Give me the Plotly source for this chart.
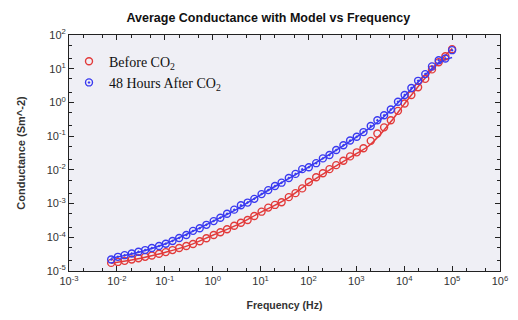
import plotly.graph_objects as go

# Frequencies of measured points (Hz)
freq = [0.0076, 0.0105, 0.0145, 0.0204, 0.0282, 0.0389, 0.0537, 0.0759, 0.105, 0.145,
        0.200, 0.282, 0.389, 0.537, 0.741, 1.05, 1.45, 2.0, 2.82, 3.89,
        5.37, 7.41, 10.5, 14.5, 20, 27.5, 38.9, 53.7, 74.1, 102,
        145, 200, 275, 380, 537, 741, 1020, 1410, 2000, 2750,
        3800, 5250, 7410, 10200, 14100, 19500, 27500, 38000, 52500, 72400,
        100000]

# Before CO2 measured conductance
before = [1.74e-5, 1.86e-5, 2.0e-5, 2.19e-5, 2.40e-5, 2.63e-5, 2.88e-5, 3.24e-5, 3.63e-5, 4.17e-5,
          4.79e-5, 5.50e-5, 6.31e-5, 7.59e-5, 9.33e-5, 1.17e-4, 1.41e-4, 1.74e-4, 2.19e-4, 2.69e-4,
          3.24e-4, 4.27e-4, 5.75e-4, 7.59e-4, 9.12e-4, 1.10e-3, 1.55e-3, 2.04e-3, 2.82e-3, 4.37e-3,
          6.03e-3, 7.94e-3, 1.05e-2, 1.38e-2, 1.86e-2, 2.51e-2, 3.31e-2, 4.37e-2, 7.24e-2, 0.120,
          0.182, 0.295, 0.562, 0.933, 1.66, 2.82, 5.01, 9.55, 15.5, 23.4,
          38.0]

# 48 hours after CO2 measured conductance
after = [2.19e-5, 2.63e-5, 2.95e-5, 3.31e-5, 3.72e-5, 4.17e-5, 4.79e-5, 5.50e-5, 6.46e-5, 7.76e-5,
         9.55e-5, 1.17e-4, 1.55e-4, 1.86e-4, 2.34e-4, 3.02e-4, 3.80e-4, 5.01e-4, 6.61e-4, 8.91e-4,
         1.07e-3, 1.38e-3, 1.91e-3, 2.51e-3, 3.31e-3, 4.17e-3, 5.75e-3, 7.59e-3, 1.05e-2, 1.20e-2,
         1.58e-2, 2.19e-2, 2.75e-2, 3.89e-2, 5.37e-2, 7.41e-2, 9.55e-2, 0.132, 0.200, 0.295,
         0.417, 0.617, 1.05, 1.66, 2.69, 4.37, 6.92, 11.7, 17.8, 20.0,
         35.5]

# Model curves
model_before_f = [0.0076, 0.0316, 0.1, 0.316, 1, 3.16, 10, 31.6, 100, 316, 1000, 1780, 3160, 5620, 10000, 31600, 100000]
model_before = [1.70e-5, 2.40e-5, 3.55e-5, 5.75e-5, 1.15e-4, 2.29e-4, 5.50e-4, 1.26e-3, 3.98e-3, 1.12e-2,
                3.02e-2, 5.01e-2, 0.112, 0.302, 0.891, 6.76, 39.8]
model_after_f = [0.0076, 0.0316, 0.1, 0.316, 1, 3.16, 10, 31.6, 100, 316, 1000, 3160, 10000, 31600, 56200, 100000]
model_after = [2.40e-5, 3.72e-5, 6.31e-5, 1.32e-4, 2.95e-4, 6.76e-4, 1.82e-3, 4.68e-3, 1.20e-2, 3.24e-2,
               9.33e-2, 0.302, 1.51, 7.94, 15.8, 21.4]

x_tickvals = [1e-3, 1e-2, 1e-1, 1, 10, 100, 1e3, 1e4, 1e5, 1e6]
x_ticktext = ["10<sup>-3</sup>", "10<sup>-2</sup>", "10<sup>-1</sup>", "10<sup>0</sup>", "10<sup>1</sup>",
              "10<sup>2</sup>", "10<sup>3</sup>", "10<sup>4</sup>", "10<sup>5</sup>", "10<sup>6</sup>"]
y_tickvals = [1e-5, 1e-4, 1e-3, 1e-2, 1e-1, 1, 10, 100]
y_ticktext = ["10<sup>-5</sup>", "10<sup>-4</sup>", "10<sup>-3</sup>", "10<sup>-2</sup>", "10<sup>-1</sup>",
              "10<sup>0</sup>", "10<sup>1</sup>", "10<sup>2</sup>"]

RED = "#e23a3a"
BLUE = "#3a3af0"
SANS = "Liberation Sans, Arial"

fig = go.Figure()
fig.add_trace(go.Scatter(x=model_before_f, y=model_before, mode="lines", line=dict(color=RED, width=1.5, shape="spline"),
                         showlegend=False, hoverinfo="skip"))
fig.add_trace(go.Scatter(x=model_after_f, y=model_after, mode="lines", line=dict(color=BLUE, width=1.5, shape="spline"),
                         showlegend=False, hoverinfo="skip"))
fig.add_trace(go.Scatter(x=freq, y=before, mode="markers", name="Before CO<sub>2</sub>",
                         marker=dict(symbol="circle-open", size=7, color=RED, line=dict(width=1.4))))
fig.add_trace(go.Scatter(x=freq, y=after, mode="markers", name="48 Hours After CO<sub>2</sub>",
                         marker=dict(symbol="circle-open-dot", size=7, color=BLUE, line=dict(width=1.4))))

axis_common = dict(type="log", showline=True, linecolor="#222", linewidth=1, mirror="ticks",
                   ticks="inside", ticklen=5, tickcolor="#222", showgrid=False, zeroline=False,
                   tickfont=dict(family=SANS, size=11, color="#333"),
                   minor=dict(ticks="inside", ticklen=3, tickcolor="#222", showgrid=False))

fig.update_xaxes(range=[-3, 6], tickvals=x_tickvals, ticktext=x_ticktext,
                 title=dict(text="<b>Frequency (Hz)</b>", font=dict(family=SANS, size=10.5, color="#333"), standoff=15),
                 **axis_common)
fig.update_yaxes(range=[-5, 2], tickvals=y_tickvals, ticktext=y_ticktext,
                 title=dict(text="<b>Conductance (Sm^-2)</b>", font=dict(family=SANS, size=11, color="#333"), standoff=18),
                 **axis_common)

fig.update_layout(
    width=518, height=320,
    margin=dict(l=69, r=10, t=35, b=49),
    paper_bgcolor="white", plot_bgcolor="#efeff5",
    title=dict(text="<b>Average Conductance with Model vs Frequency</b>", x=0.518, xanchor="center",
               y=0.944, yanchor="middle", font=dict(family=SANS, size=12.5, color="#111")),
    legend=dict(x=0.0, y=0.955, xanchor="left", yanchor="top", bgcolor="rgba(0,0,0,0)",
                font=dict(family="Liberation Serif, Times New Roman", size=14, color="#111"),
                tracegroupgap=0, itemwidth=30),
    showlegend=True,
)

fig.write_html("out.html")
